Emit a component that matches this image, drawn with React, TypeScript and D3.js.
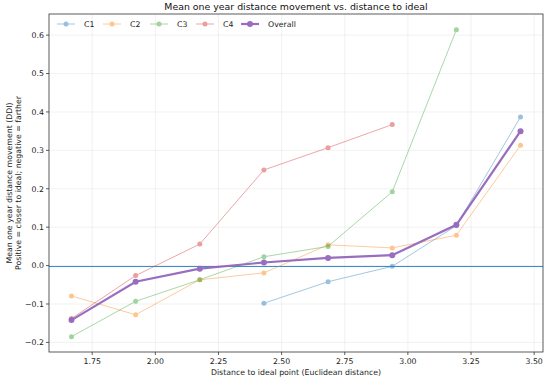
import React from "react";
import * as d3 from "d3";

const xBins = [1.668, 1.922, 2.176, 2.43, 2.684, 2.938, 3.192, 3.446];
const seriesNames = ["C1", "C2", "C3", "C4", "Overall"];
const c1: (number | null)[] = [null, null, null, -0.098, -0.042, -0.002, 0.104, 0.387];
const c2: (number | null)[] = [-0.079, -0.128, -0.037, -0.019, 0.054, 0.046, 0.079, 0.313];
const c3: (number | null)[] = [-0.185, -0.093, -0.037, 0.023, 0.05, 0.192, 0.614, null];
const c4: (number | null)[] = [-0.138, -0.026, 0.056, 0.249, 0.307, 0.367, null, null];
const overall: (number | null)[] = [-0.142, -0.042, -0.008, 0.008, 0.02, 0.027, 0.106, 0.35];
const xTicks = [1.75, 2.0, 2.25, 2.5, 2.75, 3.0, 3.25, 3.5];
const yTicks = [-0.2, -0.1, 0.0, 0.1, 0.2, 0.3, 0.4, 0.5, 0.6];

const colors = ["#1f77b4", "#ff7f0e", "#2ca02c", "#d62728", "#9467bd"];

export default function App() {
  const W = 550, H = 381;
  const L = 49, R = 543, T = 14, B = 352;
  const x = d3.scaleLinear().domain([1.579, 3.535]).range([L, R]);
  const y = d3.scaleLinear().domain([-0.225, 0.655]).range([B, T]);
  const all = [c1, c2, c3, c4, overall];
  const line = d3
    .line<[number, number | null]>()
    .defined((d) => d[1] !== null)
    .x((d) => x(d[0]))
    .y((d) => y(d[1] as number));
  const font = "DejaVu Sans, sans-serif";
  const fmtY = (v: number) => {
    const s = Math.abs(v).toFixed(1);
    return (v < -1e-9 ? "\u2212" : "") + s;
  };
  const legendX = [57, 103, 150, 196, 241];
  const fs = 7.8;
  const zeroY = Math.round(y(0)) + 0.5;
  return (
    <svg width={W} height={H} style={{ position: "absolute", left: 0, top: 0, background: "#fff" }}>
      <rect x={0} y={0} width={W} height={H} fill="#fff" />
      {xTicks.map((t) => (
        <line key={"gx" + t} x1={x(t)} x2={x(t)} y1={T} y2={B} stroke="#b0b0b0" strokeOpacity={0.3} strokeWidth={0.6} />
      ))}
      {yTicks.map((t) => (
        <line key={"gy" + t} x1={L} x2={R} y1={y(t)} y2={y(t)} stroke="#b0b0b0" strokeOpacity={0.3} strokeWidth={0.6} />
      ))}
      <line x1={L} x2={R} y1={zeroY} y2={zeroY} stroke="#3a8ed0" strokeWidth={1.2} />
      {all.map((s, i) => {
        const pts = xBins.map((b, j) => [b, s[j]] as [number, number | null]);
        const isOverall = i === 4;
        return (
          <g key={"s" + i} opacity={isOverall ? 0.95 : 0.45}>
            <path d={line(pts) || ""} fill="none" stroke={colors[i]} strokeWidth={isOverall ? 2.2 : 0.9} />
            {pts
              .filter((p) => p[1] !== null)
              .map((p, j) => (
                <circle key={j} cx={x(p[0])} cy={y(p[1] as number)} r={isOverall ? 3 : 2.5} fill={colors[i]} />
              ))}
          </g>
        );
      })}
      <rect x={L} y={T} width={R - L} height={B - T} fill="none" stroke="#333" strokeWidth={0.8} />
      {xTicks.map((t) => (
        <g key={"xt" + t}>
          <line x1={x(t)} x2={x(t)} y1={B} y2={B + 3} stroke="#333" strokeWidth={0.8} />
          <text x={x(t)} y={B + 12} fontSize={fs} fontFamily={font} textAnchor="middle" fill="#222">
            {t.toFixed(2)}
          </text>
        </g>
      ))}
      {yTicks.map((t) => (
        <g key={"yt" + t}>
          <line x1={L - 3} x2={L} y1={y(t)} y2={y(t)} stroke="#333" strokeWidth={0.8} />
          <text x={L - 5} y={y(t) + 2.8} fontSize={fs} fontFamily={font} textAnchor="end" fill="#222">
            {fmtY(t)}
          </text>
        </g>
      ))}
      <text x={(L + R) / 2} y={10} fontSize={9.4} fontFamily={font} textAnchor="middle" fill="#111">
        Mean one year distance movement vs. distance to ideal
      </text>
      <text x={(L + R) / 2} y={375} fontSize={fs} fontFamily={font} textAnchor="middle" fill="#222">
        Distance to ideal point (Euclidean distance)
      </text>
      <g transform={`translate(12, ${(T + B) / 2}) rotate(-90)`}>
        <text x={0} y={0} fontSize={fs} fontFamily={font} textAnchor="middle" fill="#222">
          Mean one year distance movement (DDI)
        </text>
        <text x={0} y={9} fontSize={fs} fontFamily={font} textAnchor="middle" fill="#222">
          Positive = closer to ideal; negative = farther
        </text>
      </g>
      {seriesNames.map((n, i) => {
        const lx = legendX[i];
        const ly = 24;
        const isOverall = i === 4;
        return (
          <g key={"lg" + i}>
            <g opacity={isOverall ? 0.95 : 0.45}>
              <line x1={lx} x2={lx + 18} y1={ly} y2={ly} stroke={colors[i]} strokeWidth={isOverall ? 2.2 : 0.9} />
              <circle cx={lx + 9} cy={ly} r={isOverall ? 3 : 2.5} fill={colors[i]} />
            </g>
            <text x={lx + 27} y={ly + 2.8} fontSize={fs} fontFamily={font} fill="#222">
              {n}
            </text>
          </g>
        );
      })}
    </svg>
  );
}
